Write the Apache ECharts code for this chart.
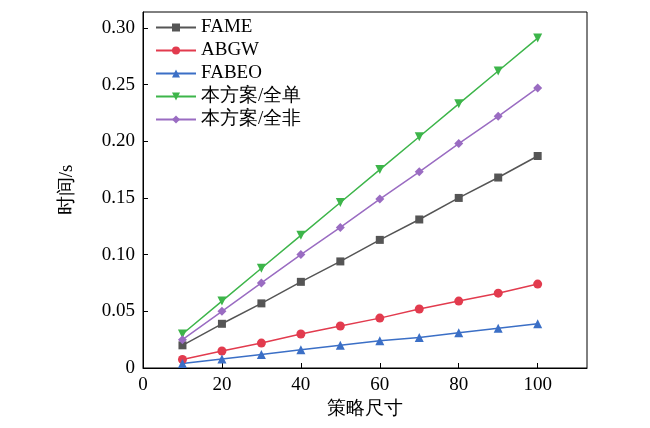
<!DOCTYPE html>
<html><head><meta charset="utf-8">
<script src="https://cdn.jsdelivr.net/npm/echarts@6/dist/echarts.min.js"></script>
<style>html,body{margin:0;padding:0;background:#fff}#chartmain{width:650px;height:428px}</style>
</head><body>
<div id="chartmain"></div>
<script>
var sizes = [10, 20, 30, 40, 50, 60, 70, 80, 90, 100];
var names = ['FAME', 'ABGW', 'FABEO', '本方案/全单', '本方案/全非'];
var fame = [0.020, 0.039, 0.057, 0.076, 0.094, 0.113, 0.131, 0.150, 0.168, 0.187];
var abgw = [0.0075, 0.015, 0.022, 0.030, 0.037, 0.044, 0.052, 0.059, 0.066, 0.074];
var fabeo = [0.004, 0.008, 0.012, 0.016, 0.020, 0.024, 0.027, 0.031, 0.035, 0.039];
var allSingle = [0.030, 0.059, 0.088, 0.117, 0.146, 0.175, 0.204, 0.233, 0.262, 0.291];
var allNon = [0.025, 0.050, 0.075, 0.100, 0.124, 0.149, 0.173, 0.198, 0.222, 0.247];

var colors = ['#555555', '#e23b4e', '#3b6fc6', '#3db54a', '#9a6cc2'];
var symbols = ['rect', 'circle', 'triangle', 'path://M0,0 L10,0 L5,9 Z', 'diamond'];
var values = [fame, abgw, fabeo, allSingle, allNon];
var font = 'Liberation Serif, Times New Roman, serif';

function pairs(v) { return sizes.map(function (s, i) { return [s, v[i]]; }); }

var series = names.map(function (n, i) {
    return {
        name: n, type: 'line', data: pairs(values[i]),
        symbol: symbols[i], symbolSize: i === 0 ? 8 : 9,
        lineStyle: { width: 1.5, color: colors[i] },
        itemStyle: { color: colors[i] }
    };
});

var option = {
    animation: false,
    textStyle: { fontFamily: font },
    color: colors,
    grid: { left: 143, right: 63, top: 12, bottom: 60, show: true, borderColor: '#000', borderWidth: 1 },
    legend: {
        orient: 'vertical', left: 150, top: 13, itemGap: 4, itemWidth: 40, itemHeight: 10,
        textStyle: { fontSize: 19, fontFamily: font, color: '#000' },
        data: names
    },
    xAxis: {
        type: 'value', min: 0, max: 112.5, interval: 20,
        name: '策略尺寸', nameLocation: 'middle', nameGap: 31,
        nameTextStyle: { fontSize: 19, color: '#000', fontFamily: font },
        axisLine: { lineStyle: { color: '#000' } },
        axisTick: { inside: true, length: 5, lineStyle: { color: '#000' } },
        axisLabel: { fontSize: 19, color: '#000', fontFamily: font, showMaxLabel: false },
        splitLine: { show: false }
    },
    yAxis: {
        type: 'value', min: 0, max: 0.314, interval: 0.05,
        name: '时间/s', nameLocation: 'middle', nameGap: 66,
        nameTextStyle: { fontSize: 19, color: '#000', fontFamily: font },
        axisLine: { show: true, lineStyle: { color: '#000' } },
        axisTick: { show: true, inside: true, length: 5, lineStyle: { color: '#000' } },
        axisLabel: {
            fontSize: 19, color: '#000', fontFamily: font, showMaxLabel: false,
            formatter: function (v) { return v === 0 ? '0' : v.toFixed(2); }
        },
        splitLine: { show: false }
    },
    series: series
};

var myChart = echarts.init(document.getElementById('chartmain'));
myChart.setOption(option);
</script>
</body></html>
